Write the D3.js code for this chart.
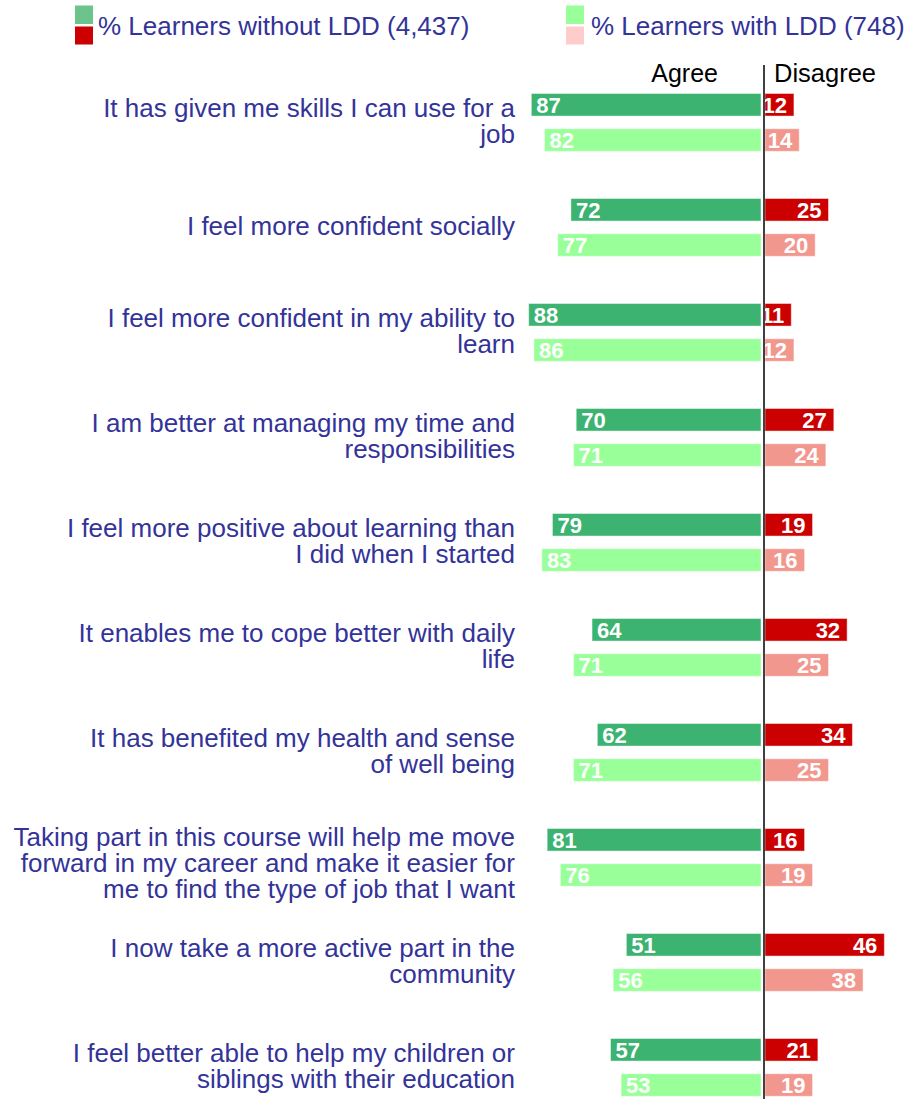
<!DOCTYPE html>
<html>
<head>
<meta charset="utf-8">
<script src="https://cdn.jsdelivr.net/npm/d3@7"></script>
<style>
html,body{margin:0;padding:0;background:#fff;}
svg{display:block;font-family:"Liberation Sans",Arial,sans-serif;}
</style>
</head>
<body>
<svg id="chart" width="906" height="1099"></svg>
<script>
const categories = [
  ["It has given me skills I can use for a", "job"],
  ["I feel more confident socially"],
  ["I feel more confident in my ability to", "learn"],
  ["I am better at managing my time and", "responsibilities"],
  ["I feel more positive about learning than", "I did when I started"],
  ["It enables me to cope better with daily", "life"],
  ["It has benefited my health and sense", "of well being"],
  ["Taking part in this course will help me move", "forward in my career and make it easier for", "me to find the type of job that I want"],
  ["I now take a more active part in the", "community"],
  ["I feel better able to help my children or", "siblings with their education"]
];
const agreeWithout    = [87, 72, 88, 70, 79, 64, 62, 81, 51, 57];
const disagreeWithout = [12, 25, 11, 27, 19, 32, 34, 16, 46, 21];
const agreeWith       = [82, 77, 86, 71, 83, 71, 71, 76, 56, 53];
const disagreeWith    = [14, 20, 12, 24, 16, 25, 25, 19, 38, 19];
const seriesNames = ["% Learners without LDD (4,437)", "% Learners with LDD (748)"];
const headers = ["Agree", "Disagree"];

const colAgreeWithout = "#3cb371", colDisWithout = "#cc0000";
const colAgreeWith = "#99ff99", colDisWith = "#f1978e";
const legendCols = [["#6cc48c", "#cc0000"], ["#99ff99", "#ffcccc"]];
const textBlue = "#333399";

const svg = d3.select("#chart");

const xL = d3.scaleLinear().domain([0, 100]).range([761, 497]);
const xR = d3.scaleLinear().domain([0, 100]).range([762, 1028]);
const disStart = 765;

const y = d3.scaleBand().domain(d3.range(categories.length)).range([93.5, 93.5 + 105 * categories.length]).padding(0);
const inner = d3.scaleBand().domain(["without", "with"]).range([0, 57.8]).paddingInner(0.36).paddingOuter(0);
const bh = inner.bandwidth();

// legend
const legend = svg.append("g");
[[75, 98], [566, 591]].forEach((p, i) => {
  legend.append("rect").attr("x", p[0]).attr("y", 5.5).attr("width", 18).attr("height", 18.5).attr("fill", legendCols[i][0]);
  legend.append("rect").attr("x", p[0]).attr("y", 26.5).attr("width", 18).attr("height", 18).attr("fill", legendCols[i][1]);
  legend.append("text").attr("x", p[1]).attr("y", 35).attr("fill", textBlue).attr("font-size", 26).text(seriesNames[i]);
});

// headers
svg.append("text").attr("x", 718).attr("y", 82).attr("text-anchor", "end").attr("font-size", 25).attr("fill", "#000").text(headers[0]);
svg.append("text").attr("x", 774).attr("y", 82).attr("text-anchor", "start").attr("font-size", 25.5).attr("fill", "#000").text(headers[1]);

const rows = categories.map((c, i) => ({
  i, lines: c,
  bars: [
    {key: "without", a: agreeWithout[i], d: disagreeWithout[i], ca: colAgreeWithout, cd: colDisWithout},
    {key: "with", a: agreeWith[i], d: disagreeWith[i], ca: colAgreeWith, cd: colDisWith}
  ]
}));

const g = svg.selectAll("g.row").data(rows).join("g").attr("class", "row")
  .attr("transform", d => `translate(0,${y(d.i)})`);

// category labels
g.each(function(d) {
  const n = d.lines.length;
  const lh = 26.2;
  const center = 28.7;
  const first = center + 8 - (n - 1) * lh / 2 + (n > 2 ? 6.5 : 0);
  const t = d3.select(this).append("text").attr("text-anchor", "end").attr("fill", textBlue).attr("font-size", 26);
  d.lines.forEach((ln, k) => {
    t.append("tspan").attr("x", 515).attr("y", first + k * lh).text(ln);
  });
});

const bars = g.selectAll("g.bar").data(d => d.bars).join("g").attr("class", "bar")
  .attr("transform", d => `translate(0,${inner(d.key)})`);

bars.append("rect")
  .attr("x", d => xL(d.a)).attr("y", 0)
  .attr("width", d => xL(0) - xL(d.a)).attr("height", bh)
  .attr("fill", d => d.ca).attr("stroke", "#fff").attr("stroke-opacity", 0.45).attr("stroke-width", 1);
bars.append("rect")
  .attr("x", disStart).attr("y", 0)
  .attr("width", d => xR(d.d) - disStart).attr("height", bh)
  .attr("fill", d => d.cd).attr("stroke", "#fff").attr("stroke-opacity", 0.45).attr("stroke-width", 1);

bars.append("text")
  .attr("x", d => xL(d.a) + 5).attr("y", bh / 2 + 7.8)
  .attr("fill", "#fff").attr("font-weight", "bold").attr("font-size", 22)
  .text(d => d.a);
bars.append("text")
  .attr("x", d => xR(d.d) - 7).attr("y", bh / 2 + 7.8)
  .attr("text-anchor", "end")
  .attr("fill", "#fff").attr("font-weight", "bold").attr("font-size", 22)
  .text(d => d.d);

// center line
svg.append("line").attr("x1", 764).attr("x2", 764).attr("y1", 65).attr("y2", 1099)
  .attr("stroke", "#000").attr("stroke-width", 1.5);
</script>
</body>
</html>
